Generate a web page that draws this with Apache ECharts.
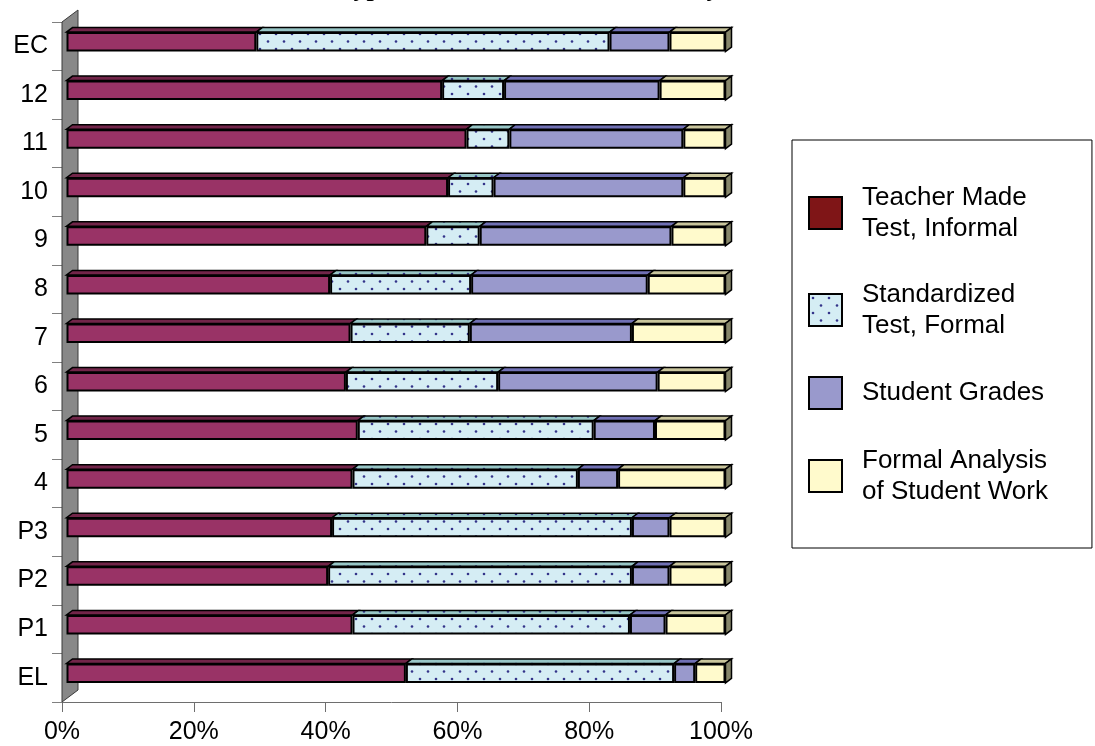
<!DOCTYPE html>
<html>
<head>
<meta charset="utf-8">
<script src="https://cdn.jsdelivr.net/npm/echarts@6/dist/echarts.min.js"></script>
<style>
html,body{margin:0;padding:0;background:#fff;}
#chart{width:1095px;height:746px;}
</style>
</head>
<body>
<div id="chart"></div>
<script>
// ---- data (percent of responses per grade level) ----
const categories = ['EC','12','11','10','9','8','7','6','5','4','P3','P2','P1','EL'];
const seriesNames = ['Teacher Made Test, Informal','Standardized Test, Formal','Student Grades','Formal Analysis of Student Work'];
const legendLabels = ['Teacher Made\nTest, Informal','Standardized\nTest, Formal','Student Grades','Formal Analysis\nof Student Work'];
const teacherMade    = [28.8, 57.0, 60.7, 57.9, 54.6, 40.0, 43.1, 42.4, 44.2, 43.4, 40.3, 39.7, 43.4, 51.5];
const standardized   = [53.6,  9.4,  6.5,  6.9,  8.1, 21.4, 18.1, 23.1, 35.8, 34.2, 45.5, 46.1, 42.1, 40.7];
const studentGrades  = [ 9.1, 23.6, 26.4, 28.8, 29.1, 26.8, 24.6, 24.2,  9.3,  6.1,  5.7,  5.7,  5.4,  3.2];
const formalAnalysis = [ 8.5, 10.0,  6.4,  6.4,  8.2, 11.8, 14.2, 10.3, 10.7, 16.3,  8.5,  8.5,  9.1,  4.6];
const xTickValues = [0, 20, 40, 60, 80, 100];
const chartTitle = 'Types of Assessment Data Used by Grade Level';

// ---- styling ----
const FONT = 'Liberation Sans, Arial, sans-serif';
const DX = 6, DY = -4.5, BAR_H = 19.5;     // bar depth
const WDX = 16, WDY = -12;                 // wall depth

function dotPattern(bg) {
  const c = document.createElement('canvas');
  c.width = 16; c.height = 15;
  const g = c.getContext('2d');
  g.fillStyle = bg; g.fillRect(0, 0, 16, 15);
  g.fillStyle = '#34348a';
  g.beginPath(); g.arc(4, 4, 1.3, 0, Math.PI * 2); g.fill();
  g.beginPath(); g.arc(12, 11.5, 1.3, 0, Math.PI * 2); g.fill();
  return { image: c, repeat: 'repeat' };
}

const frontFills = ['#993366', dotPattern('#d5edf4'), '#9999cc', '#fffacc'];
const topFills   = ['#722549', dotPattern('#97c6c6'), '#7070b4', '#c9c59c'];
const sideFill   = '#86866a';

const allSeries = [teacherMade, standardized, studentGrades, formalAnalysis];

// top/side faces data built from the series arrays
const faceData = [];
categories.forEach((c, i) => {
  let acc = 0;
  allSeries.forEach((arr, s) => {
    faceData.push([acc, acc + arr[i], i, s]);
    acc += arr[i];
  });
});

function renderFace(params, api) {
  const start = api.value(0), end = api.value(1), cat = api.value(2), seg = api.value(3);
  const a = api.coord([start, cat]);
  const b = api.coord([end, cat]);
  const yt = a[1] - BAR_H / 2;
  const children = [{
    type: 'polygon',
    shape: { points: [[a[0], yt], [b[0], yt], [b[0] + DX, yt + DY], [a[0] + DX, yt + DY]] },
    style: { fill: topFills[seg], stroke: '#000', lineWidth: 1.5 }
  }];
  if (seg === allSeries.length - 1) {
    children.push({
      type: 'polygon',
      shape: { points: [[b[0], yt], [b[0] + DX, yt + DY], [b[0] + DX, yt + DY + BAR_H], [b[0], yt + BAR_H]] },
      style: { fill: sideFill, stroke: '#000', lineWidth: 1.5 }
    });
  }
  return { type: 'group', children };
}

function renderWall(params, api) {
  const band = api.size([0, 1])[1];
  const t = api.coord([0, 0]);
  const b = api.coord([0, categories.length - 1]);
  const x0 = t[0], y0 = t[1] - band / 2, y1 = b[1] + band / 2;
  return {
    type: 'polygon',
    shape: { points: [[x0, y0], [x0, y1], [x0 + WDX, y1 + WDY], [x0 + WDX, y0 + WDY]] },
    style: { fill: '#888888', stroke: '#3a3a3a', lineWidth: 1 }
  };
}

const chart = echarts.init(document.getElementById('chart'), null, { renderer: 'canvas' });

const barSeries = seriesNames.map((name, s) => ({
  name,
  type: 'bar',
  stack: 'total',
  xAxisIndex: 1,
  yAxisIndex: 1,
  barWidth: BAR_H,
  z: 3,
  itemStyle: { color: frontFills[s], borderColor: '#000', borderWidth: 2 },
  emphasis: { disabled: true },
  data: allSeries[s]
}));

chart.setOption({
  animation: false,
  backgroundColor: '#fff',
  title: {
    text: chartTitle,
    left: 338,
    top: -24,
    padding: 0,
    textStyle: { fontFamily: 'Liberation Serif, Times New Roman, serif', fontWeight: 'bold', fontSize: 26, color: '#000' }
  },
  legend: {
    orient: 'vertical',
    left: 792,
    top: 140,
    padding: [42, 44, 41, 16],
    borderColor: '#000',
    borderWidth: 1,
    backgroundColor: '#fff',
    itemGap: 35,
    itemWidth: 33,
    itemHeight: 32,
    icon: 'rect',
    selectedMode: false,
    itemStyle: { borderColor: '#000', borderWidth: 2 },
    textStyle: { fontFamily: FONT, fontSize: 26, lineHeight: 31, color: '#000', padding: [0, 0, 0, 15] },
    formatter: name => legendLabels[seriesNames.indexOf(name)],
    data: seriesNames.map((n, i) => i === 0 ? { name: n, itemStyle: { color: '#7f1517' } } : { name: n })
  },
  grid: [
    { left: 62, top: 22, width: 659, height: 680, containLabel: false, outerBoundsMode: 'none' },
    { left: 66.5, top: 17.5, width: 659, height: 680, containLabel: false, outerBoundsMode: 'none' }
  ],
  xAxis: [
    {
      gridIndex: 0, type: 'value', min: 0, max: 100, interval: 20,
      axisLine: { show: true, lineStyle: { color: '#6e6e6e', width: 1 } },
      axisTick: { show: true, inside: false, length: 10, lineStyle: { color: '#6e6e6e' } },
      splitLine: { show: false },
      axisLabel: { fontFamily: FONT, fontSize: 25, color: '#000', margin: 18, formatter: v => xTickValues.includes(v) ? v + '%' : '' }
    },
    { gridIndex: 1, type: 'value', min: 0, max: 100, show: false }
  ],
  yAxis: [
    {
      gridIndex: 0, type: 'category', inverse: true, data: categories,
      axisLine: { show: false },
      axisTick: { show: true, length: 10, lineStyle: { color: '#808080' } },
      axisLabel: { fontFamily: FONT, fontSize: 25, color: '#000', margin: 14 }
    },
    { gridIndex: 1, type: 'category', inverse: true, data: categories, show: false }
  ],
  series: [
    {
      name: 'wall', type: 'custom', xAxisIndex: 0, yAxisIndex: 0, z: 1, silent: true,
      renderItem: renderWall, data: [[0, 0]], encode: { x: 0, y: 1 }
    },
    ...barSeries,
    {
      name: 'faces', type: 'custom', xAxisIndex: 1, yAxisIndex: 1, z: 4, silent: true,
      renderItem: renderFace, data: faceData, encode: { x: [0, 1], y: 2 }
    }
  ]
});
</script>
</body>
</html>
